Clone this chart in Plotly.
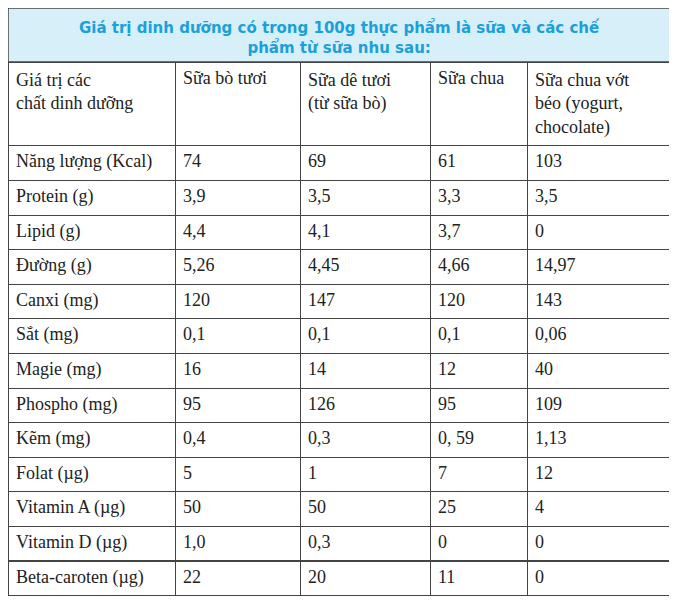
import plotly.graph_objects as go

title = "Giá trị dinh dưỡng có trong 100g thực phẩm là sữa và các chế<br>phẩm từ sữa nhu sau:"
headers = ["Giá trị các<br>chất dinh dưỡng", "Sữa bò tươi", "Sữa dê tươi<br>(từ sữa bò)", "Sữa chua", "Sữa chua vớt<br>béo (yogurt,<br>chocolate)"]
nutrients = ["Năng lượng (Kcal)", "Protein (g)", "Lipid (g)", "Đường (g)", "Canxi (mg)", "Sắt (mg)",
             "Magie (mg)", "Phospho (mg)", "Kẽm (mg)", "Folat (µg)", "Vitamin A (µg)", "Vitamin D (µg)", "Beta-caroten (µg)"]
sua_bo = ["74", "3,9", "4,4", "5,26", "120", "0,1", "16", "95", "0,4", "5", "50", "1,0", "22"]
sua_de = ["69", "3,5", "4,1", "4,45", "147", "0,1", "14", "126", "0,3", "1", "50", "0,3", "20"]
sua_chua = ["61", "3,3", "3,7", "4,66", "120", "0,1", "12", "95", "0, 59", "7", "25", "0", "11"]
sua_chua_beo = ["103", "3,5", "0", "14,97", "143", "0,06", "40", "109", "1,13", "12", "4", "0", "0"]

# page is shown with an 8px body offset, so work in shifted coordinates
W, H = 669, 592
OFF = 8
font = dict(family="Liberation Serif", size=18, color="#222")
x0, x1 = (8 - OFF) / W, (670 - OFF) / W
ytab = 1 - (62 - OFF) / H
fig = go.Figure(go.Table(
    domain=dict(x=[x0, x1], y=[0, ytab]),
    columnwidth=[167, 125, 130, 97, 143],
    header=dict(values=headers, align="left", font=font, fill_color="white",
                line=dict(color="#444", width=1), height=80),
    cells=dict(values=[nutrients, sua_bo, sua_de, sua_chua, sua_chua_beo], align="left", font=font,
               fill_color="white", line=dict(color="#444", width=1), height=34.6),
))
fig.add_shape(type="rect", xref="paper", yref="paper", x0=x0, x1=x1, y0=ytab, y1=1,
              fillcolor="#d6eff9", line=dict(color="#444", width=1.5), layer="below")
fig.add_annotation(text="<b>" + title + "</b>", xref="paper", yref="paper", x=(339 - OFF) / W,
                   y=1 - 8 / H, yanchor="top", xanchor="center",
                   showarrow=False, font=dict(family="DejaVu Sans", size=15, color="#1aa0da"), align="center")
fig.update_layout(width=W, height=H, margin=dict(l=0, r=0, t=0, b=0), paper_bgcolor="white")
fig.write_html("out.html")
